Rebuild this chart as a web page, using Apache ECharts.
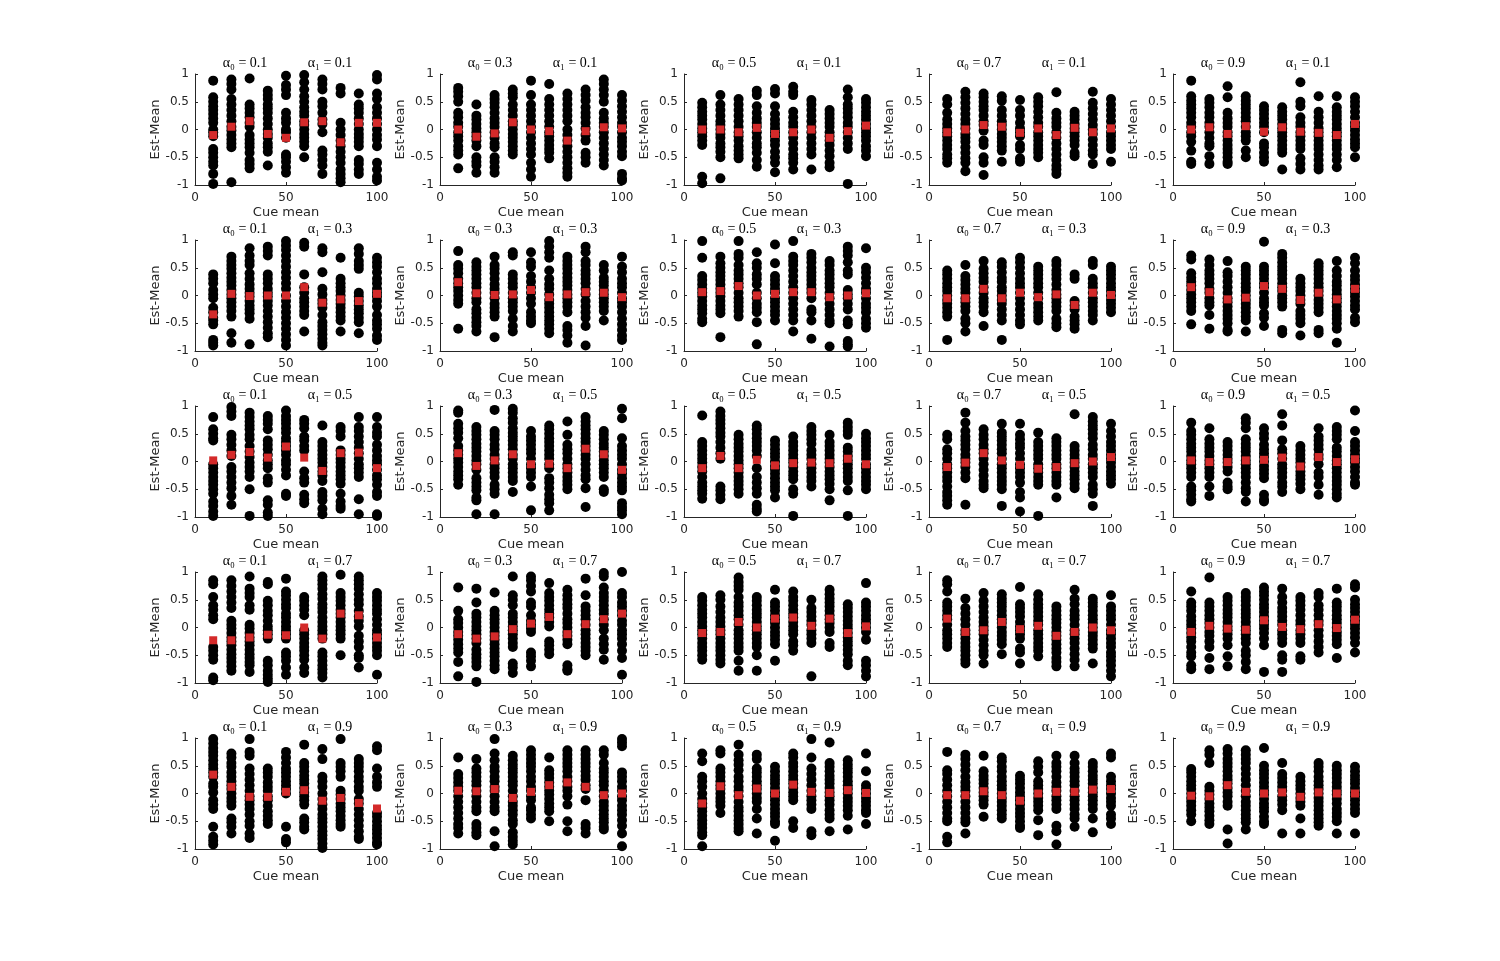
<!DOCTYPE html>
<html>
<head>
<meta charset="utf-8">
<script src="https://cdn.jsdelivr.net/npm/echarts@6/dist/echarts.min.js"></script>
<style>html,body{margin:0;padding:0;background:#fff;}#chart{width:1500px;height:961px;}</style>
</head>
<body>
<div id="chart"></div>
<script>
// ---- data ----
const cueMeans = [10, 20, 30, 40, 50, 60, 70, 80, 90, 100];
const alpha0 = ['0.1', '0.3', '0.5', '0.7', '0.9'];   // columns
const alpha1 = ['0.1', '0.3', '0.5', '0.7', '0.9'];   // rows
const xTicks = [0, 50, 100];
const yTicks = [-1, -0.5, 0, 0.5, 1];

// Row 1 (alpha1 = 0.1)
const est_r1c1 = [
 [0.88,0.58,0.5,0.42,0.35,0.28,0.2,0.12,0.0,-0.05,-0.12,-0.35,-0.42,-0.5,-0.58,-0.65,-0.8,-0.98],
 [0.9,0.82,0.72,0.55,0.45,0.35,0.25,0.15,0.05,-0.02,-0.1,-0.18,-0.25,-0.32,-0.95],
 [0.92,0.45,0.38,0.3,0.22,0.12,0.05,-0.1,-0.18,-0.25,-0.32,-0.42,-0.55,-0.62,-0.7],
 [0.7,0.62,0.55,0.45,0.38,0.3,0.2,0.1,0.0,-0.08,-0.15,-0.25,-0.32,-0.4,-0.65],
 [0.97,0.8,0.72,0.62,0.3,0.2,0.12,0.0,-0.05,-0.15,-0.45,-0.5,-0.58,-0.68,-0.78],
 [0.98,0.85,0.72,0.6,0.5,0.4,0.32,0.25,0.15,0.08,0.0,-0.08,-0.15,-0.22,-0.3,-0.5],
 [0.9,0.82,0.72,0.5,0.42,0.3,0.18,0.1,-0.05,-0.38,-0.45,-0.55,-0.65,-0.8],
 [0.75,0.65,0.12,0.0,-0.1,-0.2,-0.3,-0.4,-0.5,-0.6,-0.72,-0.8,-0.88,-0.95],
 [0.65,0.45,0.38,0.3,0.2,0.1,0.0,-0.08,-0.15,-0.22,-0.3,-0.55,-0.62,-0.72,-0.8],
 [0.98,0.9,0.65,0.55,0.4,0.3,0.2,0.1,0.0,-0.1,-0.18,-0.3,-0.6,-0.72,-0.85,-0.92]
];
const mean_r1c1 = [-0.1,0.05,0.15,-0.08,-0.15,0.13,0.15,-0.23,0.12,0.12];

const est_r1c2 = [
 [0.75,0.68,0.6,0.5,0.3,0.22,0.12,0.05,-0.05,-0.12,-0.2,-0.3,-0.38,-0.45,-0.7],
 [0.45,0.25,0.18,0.1,0.02,-0.05,-0.12,-0.2,-0.3,-0.5,-0.58,-0.65,-0.78],
 [0.62,0.55,0.48,0.4,0.3,0.2,0.12,0.05,-0.05,-0.15,-0.25,-0.32,-0.5,-0.58,-0.68,-0.78],
 [0.72,0.65,0.58,0.45,0.35,0.25,0.15,0.08,0.0,-0.08,-0.15,-0.22,-0.3,-0.38,-0.45],
 [0.88,0.62,0.45,0.35,0.25,0.15,0.05,-0.05,-0.15,-0.25,-0.35,-0.45,-0.6,-0.72,-0.85],
 [0.82,0.55,0.45,0.35,0.25,0.15,0.05,-0.05,-0.12,-0.2,-0.28,-0.35,-0.42,-0.52],
 [0.65,0.55,0.45,0.35,0.25,0.15,0.0,-0.1,-0.2,-0.3,-0.4,-0.5,-0.6,-0.7,-0.78,-0.85],
 [0.72,0.62,0.52,0.4,0.3,0.22,0.12,0.02,-0.1,-0.2,-0.42,-0.5,-0.6],
 [0.9,0.82,0.72,0.62,0.5,0.3,0.2,0.12,0.05,-0.05,-0.15,-0.25,-0.35,-0.45,-0.55,-0.65],
 [0.62,0.52,0.42,0.32,0.22,0.12,0.05,-0.05,-0.15,-0.22,-0.3,-0.4,-0.48,-0.8,-0.88,-0.92]
];
const mean_r1c2 = [0.0,-0.13,-0.07,0.13,0.0,-0.03,-0.2,-0.03,0.04,0.02];

const est_r1c3 = [
 [0.48,0.4,0.32,0.25,0.18,0.1,0.02,-0.05,-0.12,-0.2,-0.28,-0.85,-0.97],
 [0.62,0.45,0.35,0.25,0.15,0.08,0.0,-0.08,-0.15,-0.25,-0.32,-0.4,-0.5,-0.88],
 [0.55,0.45,0.35,0.25,0.15,0.05,-0.05,-0.12,-0.2,-0.3,-0.38,-0.45,-0.52],
 [0.7,0.62,0.42,0.3,0.2,0.12,0.05,-0.05,-0.15,-0.25,-0.32,-0.42,-0.55,-0.67],
 [0.73,0.65,0.42,0.28,0.18,0.1,0.02,-0.05,-0.12,-0.2,-0.28,-0.4,-0.5,-0.6,-0.77],
 [0.77,0.68,0.62,0.32,0.22,0.12,0.05,-0.05,-0.15,-0.25,-0.35,-0.45,-0.52,-0.6,-0.72],
 [0.53,0.45,0.35,0.25,0.15,0.05,-0.05,-0.15,-0.25,-0.35,-0.45,-0.72],
 [0.35,0.28,0.2,0.12,0.05,-0.05,-0.12,-0.2,-0.28,-0.38,-0.48,-0.6,-0.68],
 [0.72,0.58,0.45,0.38,0.3,0.22,0.12,0.05,-0.05,-0.15,-0.25,-0.35,-0.98],
 [0.55,0.48,0.4,0.32,0.25,0.18,0.1,0.02,-0.05,-0.12,-0.2,-0.3,-0.38,-0.48]
];
const mean_r1c3 = [0.0,0.0,-0.05,0.03,-0.08,-0.05,0.0,-0.15,-0.03,0.07];

const est_r1c4 = [
 [0.55,0.45,0.3,0.18,0.1,0.02,-0.05,-0.12,-0.2,-0.28,-0.35,-0.45,-0.52,-0.6],
 [0.68,0.58,0.48,0.38,0.28,0.18,0.1,0.02,-0.08,-0.15,-0.22,-0.32,-0.42,-0.52,-0.6,-0.75],
 [0.65,0.58,0.5,0.42,0.35,0.25,0.15,0.08,-0.02,-0.2,-0.28,-0.5,-0.6,-0.82],
 [0.6,0.52,0.35,0.25,0.15,0.08,0.0,-0.08,-0.15,-0.22,-0.3,-0.38,-0.58],
 [0.53,0.35,0.25,0.12,0.02,-0.05,-0.12,-0.28,-0.35,-0.52,-0.58],
 [0.58,0.5,0.42,0.32,0.22,0.12,0.05,-0.05,-0.12,-0.2,-0.28,-0.35,-0.42,-0.5],
 [0.67,0.3,0.2,0.12,0.05,-0.05,-0.15,-0.25,-0.35,-0.45,-0.55,-0.65,-0.72,-0.8],
 [0.32,0.25,0.18,0.1,0.02,-0.05,-0.12,-0.2,-0.28,-0.42,-0.48],
 [0.68,0.48,0.38,0.28,0.18,0.08,0.0,-0.08,-0.18,-0.28,-0.38,-0.45,-0.62],
 [0.55,0.45,0.35,0.25,0.15,0.05,-0.05,-0.12,-0.2,-0.28,-0.35,-0.58]
];
const mean_r1c4 = [-0.05,0.0,0.08,0.05,-0.06,0.02,-0.1,0.03,-0.05,0.02];

const est_r1c5 = [
 [0.88,0.6,0.52,0.45,0.38,0.3,0.22,0.12,0.05,-0.05,-0.12,-0.22,-0.38,-0.58,-0.62],
 [0.55,0.48,0.4,0.3,0.22,0.12,0.05,-0.05,-0.15,-0.25,-0.3,-0.48,-0.62],
 [0.78,0.58,0.3,0.2,0.12,0.05,-0.05,-0.12,-0.2,-0.28,-0.35,-0.42,-0.5,-0.58,-0.62],
 [0.6,0.52,0.45,0.38,0.3,0.22,0.15,0.05,-0.05,-0.12,-0.2,-0.38,-0.5],
 [0.42,0.35,0.28,0.2,0.12,0.05,-0.05,-0.25,-0.32,-0.42,-0.5,-0.58],
 [0.4,0.32,0.25,0.18,0.1,0.02,-0.05,-0.12,-0.2,-0.28,-0.35,-0.42,-0.72],
 [0.85,0.5,0.42,0.22,0.12,0.05,-0.05,-0.12,-0.2,-0.28,-0.35,-0.52,-0.62,-0.72],
 [0.6,0.32,0.22,0.12,0.02,-0.05,-0.12,-0.2,-0.28,-0.35,-0.45,-0.55,-0.65,-0.72],
 [0.6,0.4,0.32,0.25,0.18,0.1,0.02,-0.05,-0.12,-0.2,-0.28,-0.35,-0.45,-0.55,-0.68],
 [0.58,0.5,0.42,0.32,0.22,0.12,0.05,-0.02,-0.1,-0.18,-0.25,-0.32,-0.5]
];
const mean_r1c5 = [0.0,0.04,-0.08,0.06,-0.04,0.04,-0.04,-0.06,-0.1,0.1];

// Row 2 (alpha1 = 0.3)
const est_r2c1 = [
 [0.38,0.3,0.22,0.1,0.02,-0.05,-0.22,-0.3,-0.4,-0.45,-0.52,-0.8,-0.85,-0.9],
 [0.7,0.62,0.55,0.48,0.4,0.32,0.25,0.18,0.1,0.02,-0.05,-0.12,-0.2,-0.28,-0.38,-0.68,-0.85],
 [0.85,0.72,0.62,0.55,0.4,0.3,0.2,0.12,0.05,-0.02,-0.1,-0.18,-0.25,-0.32,-0.42,-0.88],
 [0.88,0.8,0.72,0.38,0.3,0.22,0.12,0.05,-0.02,-0.1,-0.18,-0.28,-0.38,-0.48,-0.58,-0.68,-0.75],
 [0.98,0.9,0.82,0.72,0.62,0.52,0.42,0.32,0.22,0.12,0.0,-0.1,-0.2,-0.3,-0.4,-0.5,-0.6,-0.7,-0.8,-0.9],
 [0.95,0.88,0.38,0.15,0.05,-0.05,-0.12,-0.2,-0.28,-0.35,-0.65],
 [0.85,0.78,0.42,0.12,0.02,-0.08,-0.15,-0.22,-0.35,-0.48,-0.55,-0.62,-0.7,-0.78,-0.85,-0.9],
 [0.68,0.3,0.22,0.15,0.08,0.0,-0.08,-0.15,-0.22,-0.3,-0.38,-0.45,-0.65],
 [0.85,0.75,0.62,0.55,0.48,0.05,-0.02,-0.1,-0.18,-0.25,-0.32,-0.4,-0.48,-0.68],
 [0.68,0.6,0.52,0.42,0.3,0.22,0.12,0.05,-0.02,-0.1,-0.2,-0.35,-0.45,-0.52,-0.6,-0.72,-0.8]
];
const mean_r2c1 = [-0.34,0.03,-0.01,0.0,0.0,0.15,-0.13,-0.07,-0.1,0.03];

const est_r2c2 = [
 [0.8,0.55,0.48,0.4,0.3,0.22,0.15,0.08,0.0,-0.08,-0.15,-0.6],
 [0.6,0.52,0.45,0.38,0.3,0.22,0.15,0.05,-0.05,-0.12,-0.25,-0.32,-0.4,-0.48,-0.55,-0.65],
 [0.7,0.55,0.48,0.4,0.3,0.2,0.12,0.05,-0.05,-0.15,-0.22,-0.3,-0.38,-0.75],
 [0.78,0.72,0.38,0.3,0.22,0.15,0.05,-0.05,-0.12,-0.2,-0.28,-0.42,-0.55,-0.65],
 [0.78,0.6,0.52,0.35,0.25,0.15,0.05,-0.05,-0.15,-0.3,-0.38,-0.45,-0.5],
 [0.98,0.88,0.78,0.68,0.45,0.3,0.2,0.12,0.02,-0.08,-0.15,-0.22,-0.3,-0.38,-0.45,-0.52,-0.6,-0.68],
 [0.7,0.62,0.55,0.48,0.4,0.32,0.25,0.18,0.1,0.02,-0.05,-0.12,-0.2,-0.3,-0.55,-0.62,-0.72,-0.85],
 [0.88,0.78,0.62,0.55,0.45,0.38,0.3,0.22,0.12,0.02,-0.1,-0.2,-0.3,-0.4,-0.55,-0.9],
 [0.55,0.45,0.32,0.25,0.18,0.1,0.02,-0.05,-0.12,-0.2,-0.28,-0.45],
 [0.7,0.52,0.42,0.3,0.22,0.15,0.05,-0.05,-0.12,-0.2,-0.3,-0.42,-0.52,-0.62,-0.72,-0.8]
];
const mean_r2c2 = [0.24,0.04,0.01,0.02,0.1,-0.03,0.02,0.06,0.05,-0.03];

const est_r2c3 = [
 [0.98,0.68,0.35,0.28,0.2,0.12,0.05,-0.02,-0.1,-0.18,-0.25,-0.32,-0.42,-0.48],
 [0.7,0.58,0.5,0.42,0.35,0.28,0.2,0.12,0.05,-0.02,-0.1,-0.18,-0.25,-0.32,-0.75],
 [0.98,0.75,0.68,0.55,0.45,0.38,0.3,0.22,0.15,0.05,-0.05,-0.12,-0.2,-0.28,-0.38],
 [0.78,0.58,0.5,0.38,0.3,0.2,0.05,-0.05,-0.15,-0.22,-0.3,-0.48,-0.88],
 [0.92,0.58,0.35,0.28,0.2,0.12,0.05,-0.05,-0.12,-0.2,-0.28,-0.35,-0.45],
 [0.98,0.7,0.62,0.55,0.45,0.35,0.25,0.15,0.05,-0.05,-0.15,-0.25,-0.35,-0.45,-0.65],
 [0.75,0.68,0.6,0.5,0.42,0.35,0.28,0.2,0.12,0.05,-0.05,-0.25,-0.3,-0.45,-0.78],
 [0.62,0.55,0.45,0.38,0.3,0.22,0.15,0.05,-0.05,-0.15,-0.25,-0.35,-0.45,-0.5,-0.92],
 [0.88,0.8,0.72,0.6,0.45,0.38,0.1,0.02,-0.05,-0.15,-0.25,-0.45,-0.52,-0.82,-0.88,-0.92],
 [0.85,0.5,0.42,0.32,0.22,0.12,0.05,-0.05,-0.15,-0.22,-0.3,-0.42,-0.5,-0.58]
];
const mean_r2c3 = [0.06,0.08,0.17,0.0,0.03,0.06,0.06,-0.03,0.0,0.04];

const est_r2c4 = [
 [0.45,0.38,0.3,0.22,0.15,0.08,0.0,-0.08,-0.15,-0.22,-0.3,-0.38,-0.8],
 [0.55,0.35,0.28,0.2,0.12,0.05,-0.05,-0.12,-0.2,-0.28,-0.42,-0.5,-0.65],
 [0.62,0.48,0.4,0.32,0.25,0.15,0.05,-0.05,-0.12,-0.2,-0.3,-0.55],
 [0.6,0.52,0.42,0.32,0.25,0.15,0.08,0.0,-0.08,-0.15,-0.25,-0.35,-0.45,-0.8],
 [0.68,0.6,0.5,0.4,0.3,0.22,0.15,0.05,-0.05,-0.15,-0.25,-0.35,-0.45,-0.52],
 [0.52,0.45,0.38,0.3,0.22,0.15,0.05,-0.05,-0.15,-0.22,-0.3,-0.38,-0.45],
 [0.62,0.55,0.45,0.38,0.3,0.2,0.1,0.02,-0.05,-0.12,-0.2,-0.28,-0.42,-0.5,-0.57],
 [0.38,0.3,-0.1,-0.18,-0.25,-0.38,-0.45,-0.52,-0.6],
 [0.62,0.55,0.3,0.22,0.15,0.05,-0.05,-0.12,-0.2,-0.28,-0.35,-0.45],
 [0.52,0.45,0.38,0.3,0.22,0.15,0.08,0.0,-0.08,-0.15,-0.22,-0.3]
];
const mean_r2c4 = [-0.05,-0.05,0.12,-0.05,0.05,-0.03,0.02,-0.17,0.05,0.01];

const est_r2c5 = [
 [0.72,0.65,0.4,0.32,0.25,0.18,0.1,0.02,-0.05,-0.12,-0.2,-0.28,-0.52],
 [0.65,0.55,0.45,0.38,0.3,0.22,0.12,0.05,-0.05,-0.12,-0.18,-0.35,-0.6],
 [0.62,0.42,0.35,0.25,0.15,0.05,-0.05,-0.12,-0.2,-0.28,-0.35,-0.42,-0.5,-0.62,-0.65],
 [0.52,0.45,0.38,0.3,0.22,0.15,0.08,0.0,-0.08,-0.15,-0.22,-0.3,-0.38,-0.45,-0.65],
 [0.97,0.52,0.45,0.38,0.3,0.22,0.15,0.05,-0.05,-0.12,-0.18,-0.32,-0.4,-0.55],
 [0.75,0.68,0.6,0.52,0.45,0.38,0.3,0.22,0.15,0.08,0.0,-0.05,-0.12,-0.2,-0.62,-0.68],
 [0.3,0.22,0.15,0.08,0.0,-0.08,-0.15,-0.28,-0.35,-0.42,-0.5,-0.72],
 [0.58,0.52,0.45,0.38,0.3,0.22,0.15,0.08,0.0,-0.08,-0.15,-0.22,-0.3,-0.62,-0.68],
 [0.62,0.45,0.35,0.25,0.18,0.1,0.02,-0.05,-0.12,-0.2,-0.28,-0.35,-0.42,-0.5,-0.6,-0.85],
 [0.68,0.58,0.45,0.35,0.28,0.2,0.12,0.05,-0.02,-0.1,-0.18,-0.25,-0.4,-0.48]
];
const mean_r2c5 = [0.15,0.06,-0.07,-0.04,0.17,0.12,-0.08,0.05,-0.07,0.12];

// Row 3 (alpha1 = 0.5)
const est_r3c1 = [
 [0.8,0.58,0.5,0.42,0.38,-0.05,-0.12,-0.2,-0.28,-0.35,-0.42,-0.5,-0.58,-0.72,-0.8,-0.9,-0.98],
 [0.98,0.9,0.82,0.48,0.4,0.3,0.2,0.1,-0.1,-0.18,-0.28,-0.38,-0.48,-0.62,-0.78],
 [0.88,0.8,0.72,0.65,0.58,0.48,0.4,0.28,0.18,0.08,-0.02,-0.1,-0.18,-0.28,-0.5,-0.98],
 [0.82,0.75,0.68,0.58,0.38,0.3,0.22,0.12,0.02,-0.05,-0.12,-0.3,-0.38,-0.7,-0.78,-0.92,-0.98],
 [0.92,0.82,0.75,0.68,0.6,0.52,0.42,0.35,0.28,0.2,0.12,0.02,-0.05,-0.15,-0.25,-0.58,-0.62],
 [0.75,0.68,0.6,0.45,0.38,0.28,0.2,-0.18,-0.3,-0.38,-0.6,-0.68,-0.75],
 [0.65,0.35,0.28,0.2,0.12,0.05,-0.02,-0.1,-0.18,-0.25,-0.35,-0.55,-0.62,-0.7,-0.85,-0.95],
 [0.62,0.55,0.45,0.2,0.12,0.05,-0.02,-0.1,-0.18,-0.25,-0.32,-0.4,-0.58,-0.72,-0.8,-0.85],
 [0.8,0.62,0.55,0.45,0.35,0.25,0.15,0.05,-0.05,-0.12,-0.2,-0.28,-0.68,-0.95],
 [0.8,0.62,0.52,0.45,0.3,0.2,0.1,0.02,-0.05,-0.15,-0.25,-0.32,-0.42,-0.55,-0.62,-0.95,-0.98]
];
const mean_r3c1 = [0.02,0.12,0.17,0.07,0.27,0.07,-0.17,0.15,0.16,-0.12];

const est_r3c2 = [
 [0.92,0.88,0.68,0.6,0.52,0.42,0.28,0.2,0.12,0.05,-0.02,-0.1,-0.18,-0.25,-0.32,-0.42],
 [0.62,0.55,0.48,0.4,0.32,0.25,0.18,0.1,0.02,-0.05,-0.15,-0.3,-0.38,-0.45,-0.52,-0.65,-0.7,-0.95],
 [0.93,0.55,0.48,0.4,0.3,0.22,0.12,0.05,-0.05,-0.12,-0.2,-0.28,-0.42,-0.5,-0.58,-0.95],
 [0.95,0.88,0.78,0.7,0.6,0.52,0.45,0.38,0.3,0.22,0.12,0.05,-0.05,-0.12,-0.2,-0.28,-0.35,-0.55],
 [0.55,0.45,0.38,0.3,0.22,0.15,0.05,-0.05,-0.12,-0.2,-0.28,-0.45,-0.88],
 [0.65,0.58,0.5,0.42,0.35,0.28,0.2,0.12,0.05,-0.05,-0.12,-0.3,-0.38,-0.48,-0.6,-0.68,-0.75,-0.88],
 [0.72,0.48,0.3,0.22,0.15,0.05,-0.05,-0.12,-0.2,-0.28,-0.35,-0.42,-0.5],
 [0.8,0.72,0.65,0.58,0.5,0.42,0.35,0.28,0.2,0.12,0.05,-0.05,-0.15,-0.25,-0.32,-0.48,-0.82],
 [0.55,0.48,0.4,0.32,0.25,0.18,0.1,0.02,-0.05,-0.12,-0.2,-0.28,-0.5,-0.55],
 [0.95,0.78,0.42,0.28,0.2,0.12,0.05,-0.05,-0.15,-0.22,-0.3,-0.38,-0.45,-0.52,-0.75,-0.82,-0.88,-0.95]
];
const mean_r3c2 = [0.15,-0.08,0.02,0.13,-0.05,-0.04,-0.12,0.23,0.13,-0.15];

const est_r3c3 = [
 [0.83,0.35,0.28,0.2,0.12,0.05,-0.02,-0.1,-0.18,-0.28,-0.38,-0.45,-0.52,-0.58,-0.67],
 [0.9,0.82,0.75,0.68,0.6,0.52,0.45,0.35,0.25,0.15,0.05,-0.45,-0.52,-0.6,-0.68],
 [0.48,0.4,0.32,0.25,0.18,0.1,0.02,-0.05,-0.12,-0.2,-0.28,-0.35,-0.42,-0.5,-0.58],
 [0.65,0.58,0.5,0.42,0.35,0.28,0.2,0.1,-0.12,-0.28,-0.38,-0.48,-0.58,-0.78,-0.85,-0.9],
 [0.38,0.3,0.22,0.15,0.08,0.0,-0.08,-0.15,-0.22,-0.3,-0.38,-0.45,-0.52,-0.65],
 [0.45,0.35,0.28,0.2,0.12,0.05,-0.02,-0.1,-0.18,-0.25,-0.32,-0.5,-0.58,-0.98],
 [0.62,0.55,0.48,0.4,0.32,0.2,0.12,0.05,-0.05,-0.12,-0.2,-0.28,-0.35,-0.45],
 [0.48,0.35,0.28,0.2,0.12,0.05,-0.02,-0.1,-0.18,-0.25,-0.32,-0.4,-0.5,-0.7],
 [0.7,0.62,0.55,0.48,0.25,0.18,0.1,0.02,-0.05,-0.12,-0.2,-0.28,-0.35,-0.52,-0.98],
 [0.5,0.42,0.35,0.28,0.2,0.12,0.05,-0.05,-0.12,-0.2,-0.28,-0.35,-0.42,-0.5]
];
const mean_r3c3 = [-0.12,0.1,-0.12,0.03,-0.07,-0.03,-0.02,-0.03,0.05,-0.05];

const est_r3c4 = [
 [0.48,0.4,0.22,0.15,0.05,-0.05,-0.12,-0.2,-0.28,-0.35,-0.45,-0.55,-0.62,-0.7,-0.78],
 [0.88,0.7,0.55,0.45,0.38,0.3,0.22,0.12,0.05,-0.02,-0.1,-0.2,-0.3,-0.78],
 [0.58,0.48,0.4,0.3,0.22,0.15,0.05,-0.05,-0.15,-0.25,-0.35,-0.42,-0.48],
 [0.68,0.52,0.45,0.38,0.3,0.22,0.15,0.05,-0.05,-0.12,-0.2,-0.28,-0.35,-0.42,-0.5,-0.8],
 [0.68,0.48,0.4,0.32,0.25,0.15,0.05,-0.05,-0.12,-0.2,-0.28,-0.38,-0.55,-0.65,-0.9],
 [0.52,0.35,0.28,0.2,0.12,0.05,-0.05,-0.12,-0.2,-0.28,-0.35,-0.42,-0.98],
 [0.42,0.35,0.28,0.2,0.12,0.05,-0.05,-0.12,-0.2,-0.28,-0.35,-0.42,-0.65],
 [0.85,0.28,0.2,0.12,0.05,-0.02,-0.1,-0.18,-0.25,-0.32,-0.4,-0.48],
 [0.8,0.72,0.65,0.58,0.5,0.42,0.3,0.22,0.12,0.05,-0.05,-0.12,-0.2,-0.28,-0.42,-0.5,-0.58,-0.8],
 [0.68,0.55,0.45,0.35,0.28,0.2,0.12,0.05,-0.02,-0.1,-0.18,-0.25,-0.32,-0.4]
];
const mean_r3c4 = [-0.1,-0.02,0.15,0.02,-0.06,-0.13,-0.1,-0.03,0.0,0.08];

const est_r3c5 = [
 [0.7,0.55,0.48,0.4,0.32,0.25,0.18,0.1,0.02,-0.05,-0.12,-0.2,-0.28,-0.45,-0.52,-0.6,-0.68,-0.72],
 [0.6,0.4,0.32,0.25,0.18,0.1,0.02,-0.05,-0.12,-0.2,-0.28,-0.45,-0.62],
 [0.35,0.28,0.2,0.12,0.05,-0.02,-0.1,-0.18,-0.38,-0.45,-0.5],
 [0.78,0.7,0.6,0.4,0.32,0.25,0.18,0.1,0.02,-0.05,-0.12,-0.2,-0.28,-0.38,-0.48,-0.55,-0.72],
 [0.6,0.5,0.42,0.3,0.22,0.15,0.08,0.0,-0.08,-0.15,-0.22,-0.3,-0.6,-0.68,-0.72],
 [0.85,0.65,0.38,0.22,0.15,0.05,-0.05,-0.12,-0.2,-0.28,-0.38,-0.45,-0.55],
 [0.28,0.2,0.12,0.05,-0.02,-0.1,-0.18,-0.25,-0.32,-0.4,-0.5],
 [0.6,0.45,0.38,0.3,0.22,0.12,0.05,-0.05,-0.2,-0.28,-0.42,-0.6],
 [0.62,0.55,0.48,0.4,0.25,0.18,0.1,0.02,-0.05,-0.12,-0.2,-0.28,-0.35,-0.42,-0.5,-0.58,-0.65],
 [0.92,0.55,0.35,0.28,0.2,0.12,0.05,-0.02,-0.1,-0.18,-0.28,-0.38,-0.42]
];
const mean_r3c5 = [0.02,-0.01,-0.01,0.02,0.03,0.07,-0.09,0.08,-0.01,0.04];

// Row 4 (alpha1 = 0.7)
const est_r4c1 = [
 [0.85,0.78,0.55,0.4,0.32,0.22,0.15,-0.35,-0.42,-0.5,-0.58,-0.9,-0.95],
 [0.85,0.75,0.65,0.55,0.45,0.35,0.12,0.05,-0.02,-0.1,-0.18,-0.25,-0.32,-0.4,-0.48,-0.55,-0.62,-0.7,-0.78],
 [0.92,0.7,0.62,0.55,0.4,0.32,0.05,-0.02,-0.1,-0.18,-0.25,-0.32,-0.4,-0.48,-0.55,-0.62,-0.68,-0.8],
 [0.82,0.78,0.48,0.4,0.3,0.22,0.12,0.02,-0.05,-0.12,-0.2,-0.6,-0.68,-0.78,-0.85,-0.92,-0.98],
 [0.88,0.65,0.58,0.5,0.42,0.35,0.25,0.18,0.1,0.02,-0.05,-0.12,-0.2,-0.45,-0.52,-0.6,-0.72,-0.85],
 [0.55,0.48,0.4,0.32,0.22,-0.05,-0.12,-0.2,-0.28,-0.35,-0.42,-0.5,-0.58,-0.72,-0.82],
 [0.92,0.85,0.78,0.7,0.6,0.52,0.42,0.35,0.28,0.18,0.1,0.02,-0.05,-0.12,-0.2,-0.45,-0.52,-0.6,-0.68,-0.75,-0.82,-0.9],
 [0.95,0.62,0.55,0.48,0.4,0.32,0.25,0.18,0.1,0.02,-0.05,-0.12,-0.2,-0.5],
 [0.92,0.85,0.78,0.7,0.6,0.5,0.42,0.3,0.2,0.12,0.02,-0.15,-0.25,-0.35,-0.5,-0.55,-0.72],
 [0.62,0.55,0.48,0.4,0.32,0.25,0.15,0.05,-0.05,-0.12,-0.2,-0.28,-0.35,-0.42,-0.5,-0.85]
];
const mean_r4c1 = [-0.23,-0.23,-0.18,-0.13,-0.14,0.0,-0.2,0.25,0.22,-0.18];

const est_r4c2 = [
 [0.72,0.3,0.15,0.08,0.0,-0.08,-0.15,-0.22,-0.3,-0.38,-0.45,-0.62,-0.88],
 [0.7,0.45,0.25,0.18,0.1,0.02,-0.05,-0.12,-0.2,-0.28,-0.4,-0.48,-0.55,-0.62,-0.7,-0.98],
 [0.63,0.3,0.22,0.15,0.08,0.0,-0.08,-0.15,-0.22,-0.3,-0.38,-0.45,-0.52,-0.6,-0.68,-0.75],
 [0.92,0.58,0.5,0.4,0.25,0.18,0.1,0.02,-0.05,-0.12,-0.2,-0.28,-0.35,-0.65,-0.72,-0.82],
 [0.92,0.85,0.75,0.65,0.45,0.38,0.22,0.12,0.05,-0.02,-0.08,-0.45,-0.52,-0.6,-0.7],
 [0.8,0.62,0.55,0.48,0.4,0.32,0.25,0.18,0.1,0.02,-0.25,-0.32,-0.4,-0.48],
 [0.68,0.58,0.5,0.42,0.35,0.25,0.15,0.08,0.0,-0.08,-0.15,-0.22,-0.3,-0.68,-0.75,-0.78],
 [0.88,0.58,0.38,0.3,0.22,0.15,0.05,-0.05,-0.12,-0.2,-0.28,-0.35,-0.42,-0.5],
 [0.98,0.92,0.72,0.62,0.55,0.48,0.4,0.32,0.25,0.15,0.05,-0.05,-0.2,-0.3,-0.4,-0.58],
 [1.0,0.62,0.55,0.45,0.38,0.3,0.22,0.12,0.05,-0.05,-0.12,-0.2,-0.3,-0.42,-0.55,-0.85]
];
const mean_r4c2 = [-0.12,-0.2,-0.16,-0.03,0.07,0.19,-0.12,0.06,0.15,0.25];

const est_r4c3 = [
 [0.55,0.48,0.4,0.32,0.25,0.18,0.1,0.02,-0.05,-0.12,-0.2,-0.28,-0.35,-0.42,-0.5,-0.58],
 [0.58,0.5,0.38,0.28,0.18,0.1,0.02,-0.05,-0.12,-0.2,-0.28,-0.35,-0.42,-0.5,-0.58,-0.65],
 [0.9,0.82,0.75,0.68,0.55,0.45,0.38,0.3,0.22,0.15,0.05,-0.05,-0.12,-0.2,-0.28,-0.35,-0.42,-0.6,-0.78],
 [0.55,0.48,0.4,0.32,0.25,0.18,0.1,0.02,-0.05,-0.12,-0.2,-0.28,-0.35,-0.5,-0.78],
 [0.68,0.45,0.38,0.3,0.22,0.15,0.08,0.0,-0.08,-0.15,-0.22,-0.3,-0.6],
 [0.65,0.55,0.48,0.4,0.32,0.25,0.18,0.1,0.02,-0.05,-0.12,-0.25,-0.32,-0.42],
 [0.5,0.35,0.28,0.2,0.12,0.05,-0.05,-0.12,-0.2,-0.28,-0.88],
 [0.68,0.6,0.52,0.45,0.38,0.3,0.22,0.15,0.08,0.0,-0.08,-0.28,-0.35],
 [0.42,0.35,0.28,0.2,0.12,0.05,-0.02,-0.1,-0.18,-0.25,-0.32,-0.4,-0.48,-0.6,-0.68],
 [0.8,0.45,0.38,0.3,0.22,0.15,0.08,0.0,-0.08,-0.22,-0.6,-0.68,-0.78,-0.88]
];
const mean_r4c3 = [-0.1,-0.08,0.1,0.0,0.16,0.18,0.03,0.16,-0.1,0.02];

const est_r4c4 = [
 [0.85,0.78,0.65,0.45,0.38,0.3,0.22,0.15,0.05,-0.05,-0.12,-0.2,-0.28,-0.35],
 [0.52,0.35,0.25,0.15,0.05,-0.05,-0.12,-0.2,-0.28,-0.35,-0.42,-0.5,-0.58,-0.65],
 [0.62,0.48,0.38,0.28,0.18,0.1,0.02,-0.05,-0.12,-0.22,-0.32,-0.42,-0.5,-0.65],
 [0.6,0.52,0.45,0.38,0.3,0.22,0.15,0.08,0.0,-0.08,-0.15,-0.22,-0.3,-0.48],
 [0.73,0.42,0.35,0.28,0.2,0.1,0.02,-0.05,-0.12,-0.2,-0.38,-0.45,-0.65],
 [0.6,0.5,0.42,0.35,0.28,0.2,0.12,0.05,-0.05,-0.12,-0.2,-0.28,-0.35,-0.42,-0.52],
 [0.38,0.3,0.22,0.15,0.08,0.0,-0.08,-0.15,-0.22,-0.3,-0.38,-0.45,-0.55,-0.62,-0.7],
 [0.68,0.52,0.42,0.3,0.22,0.15,0.05,-0.05,-0.12,-0.2,-0.28,-0.38,-0.48,-0.58,-0.7],
 [0.52,0.45,0.38,0.3,0.22,0.15,0.08,0.0,-0.08,-0.15,-0.22,-0.3,-0.38,-0.65],
 [0.58,0.38,0.3,0.22,0.15,0.05,-0.05,-0.12,-0.2,-0.28,-0.35,-0.45,-0.52,-0.6,-0.68,-0.78,-0.88]
];
const mean_r4c4 = [0.16,-0.08,-0.05,0.1,-0.03,0.03,-0.15,-0.08,0.0,-0.05];

const est_r4c5 = [
 [0.65,0.45,0.38,0.3,0.2,0.12,0.05,-0.02,-0.1,-0.18,-0.25,-0.35,-0.45,-0.52,-0.68,-0.75],
 [0.9,0.45,0.38,0.3,0.22,0.15,0.08,0.0,-0.08,-0.15,-0.25,-0.35,-0.55,-0.75],
 [0.55,0.48,0.4,0.32,0.25,0.18,0.1,0.02,-0.05,-0.12,-0.2,-0.32,-0.52,-0.7],
 [0.62,0.55,0.48,0.4,0.32,0.25,0.18,0.1,0.02,-0.05,-0.12,-0.2,-0.28,-0.42,-0.5,-0.62,-0.75],
 [0.72,0.65,0.58,0.5,0.42,0.35,0.28,0.2,0.12,0.05,-0.02,-0.1,-0.2,-0.32,-0.8],
 [0.7,0.55,0.45,0.35,0.28,0.2,0.12,0.05,-0.05,-0.12,-0.2,-0.28,-0.5,-0.58,-0.8],
 [0.55,0.48,0.4,0.32,0.22,0.12,0.05,-0.05,-0.12,-0.2,-0.28,-0.52,-0.58],
 [0.62,0.55,0.4,0.32,0.22,0.12,0.05,-0.05,-0.15,-0.25,-0.35,-0.45],
 [0.7,0.45,0.38,0.3,0.22,0.15,0.08,0.0,-0.08,-0.15,-0.22,-0.3,-0.55],
 [0.78,0.72,0.5,0.42,0.35,0.28,0.2,0.12,0.05,-0.02,-0.1,-0.18,-0.28,-0.45]
];
const mean_r4c5 = [-0.08,0.03,-0.02,-0.04,0.13,0.01,-0.03,0.06,-0.01,0.14];

// Row 5 (alpha1 = 0.9)
const est_r5c1 = [
 [0.98,0.9,0.82,0.75,0.68,0.6,0.52,0.45,0.38,0.3,0.18,0.12,0.02,-0.12,-0.2,-0.28,-0.6,-0.78,-0.85,-0.92],
 [0.72,0.65,0.55,0.48,0.38,0.3,0.22,0.15,0.08,0.0,-0.08,-0.15,-0.22,-0.45,-0.52,-0.6,-0.72],
 [0.98,0.75,0.68,0.45,0.35,0.25,0.15,0.05,-0.05,-0.12,-0.2,-0.28,-0.38,-0.5,-0.58,-0.72,-0.8],
 [0.45,0.38,0.3,0.2,0.12,0.05,-0.05,-0.12,-0.22,-0.32,-0.4,-0.48,-0.55],
 [0.75,0.65,0.55,0.45,0.38,0.3,0.22,0.15,0.08,0.0,-0.6,-0.82,-0.88],
 [0.88,0.55,0.48,0.4,0.32,0.25,0.18,0.1,0.02,-0.05,-0.12,-0.2,-0.45,-0.52,-0.6,-0.65],
 [0.8,0.62,0.3,0.22,0.12,0.0,-0.1,-0.2,-0.28,-0.38,-0.45,-0.52,-0.6,-0.68,-0.75,-0.82,-0.9,-0.98],
 [0.98,0.55,0.48,0.4,0.3,0.05,-0.02,-0.1,-0.18,-0.25,-0.32,-0.4,-0.48,-0.55,-0.6],
 [0.62,0.55,0.48,0.4,0.3,0.22,0.12,0.05,-0.1,-0.18,-0.28,-0.38,-0.48,-0.58,-0.68,-0.78,-0.82],
 [0.85,0.78,0.45,0.3,0.2,0.12,-0.35,-0.42,-0.5,-0.58,-0.65,-0.72,-0.8,-0.88,-0.92]
];
const mean_r5c1 = [0.34,0.12,-0.06,-0.06,0.03,0.06,-0.13,-0.08,-0.17,-0.27];

const est_r5c2 = [
 [0.65,0.35,0.28,0.2,0.12,0.05,-0.05,-0.15,-0.25,-0.35,-0.45,-0.55,-0.62,-0.72],
 [0.62,0.45,0.38,0.3,0.22,0.15,0.05,-0.05,-0.15,-0.25,-0.32,-0.55,-0.62,-0.7,-0.75],
 [0.98,0.72,0.6,0.48,0.4,0.3,0.22,0.12,0.05,-0.05,-0.15,-0.25,-0.32,-0.68,-0.95],
 [0.68,0.6,0.52,0.45,0.38,0.3,0.22,0.15,0.05,-0.05,-0.15,-0.22,-0.3,-0.38,-0.48,-0.55,-0.7,-0.78,-0.85,-0.92],
 [0.78,0.7,0.62,0.55,0.48,0.4,0.3,0.22,0.12,0.05,-0.05,-0.12,-0.25,-0.3,-0.38,-0.45],
 [0.65,0.42,0.35,0.28,0.2,0.12,0.05,-0.02,-0.1,-0.18,-0.25,-0.32,-0.5],
 [0.78,0.7,0.62,0.55,0.48,0.4,0.3,0.22,0.12,0.05,-0.05,-0.2,-0.5,-0.68],
 [0.78,0.7,0.62,0.55,0.48,0.4,0.32,0.25,0.15,0.08,-0.12,-0.55,-0.62,-0.72],
 [0.78,0.7,0.55,0.45,0.38,0.3,0.22,0.15,0.05,-0.05,-0.15,-0.22,-0.3,-0.38,-0.45,-0.52,-0.6,-0.65],
 [0.98,0.92,0.85,0.38,0.3,0.22,0.12,0.05,-0.05,-0.12,-0.22,-0.3,-0.38,-0.48,-0.58,-0.72,-0.95]
];
const mean_r5c2 = [0.05,0.04,0.08,-0.08,0.03,0.15,0.2,0.12,-0.03,0.0];

const est_r5c3 = [
 [0.72,0.58,0.3,0.22,0.12,0.0,-0.1,-0.18,-0.25,-0.32,-0.4,-0.48,-0.55,-0.62,-0.7,-0.75,-0.95],
 [0.78,0.72,0.45,0.38,0.3,0.22,0.15,0.08,0.0,-0.08,-0.15,-0.22,-0.35],
 [0.88,0.7,0.6,0.52,0.42,0.3,0.22,0.12,0.05,-0.05,-0.15,-0.25,-0.32,-0.4,-0.48,-0.55,-0.62,-0.68],
 [0.7,0.62,0.45,0.38,0.3,0.22,0.15,0.08,0.0,-0.08,-0.15,-0.28,-0.45,-0.72],
 [0.48,0.4,0.32,0.25,0.18,0.1,0.02,-0.05,-0.12,-0.2,-0.28,-0.35,-0.42,-0.5,-0.55,-0.85],
 [0.72,0.65,0.55,0.48,0.4,0.32,0.25,0.18,0.1,0.02,-0.05,-0.12,-0.5,-0.62],
 [0.98,0.65,0.45,0.35,0.25,0.15,0.05,-0.05,-0.12,-0.2,-0.28,-0.68,-0.75],
 [0.92,0.55,0.48,0.4,0.32,0.25,0.18,0.1,0.02,-0.05,-0.12,-0.2,-0.3,-0.38,-0.45,-0.68],
 [0.6,0.52,0.45,0.38,0.3,0.22,0.15,0.08,0.0,-0.08,-0.15,-0.22,-0.3,-0.4,-0.65],
 [0.72,0.4,0.15,0.08,0.0,-0.08,-0.15,-0.22,-0.3,-0.35,-0.55]
];
const mean_r5c3 = [-0.18,0.13,-0.03,0.09,0.0,0.16,0.03,0.01,0.06,0.01];

const est_r5c4 = [
 [0.75,0.42,0.35,0.25,0.15,0.05,-0.05,-0.15,-0.25,-0.35,-0.45,-0.5,-0.78,-0.88],
 [0.7,0.62,0.52,0.42,0.3,0.2,0.12,0.05,-0.05,-0.15,-0.25,-0.35,-0.45,-0.52,-0.72],
 [0.68,0.4,0.32,0.25,0.18,0.1,0.02,-0.05,-0.12,-0.2,-0.42],
 [0.65,0.58,0.48,0.4,0.3,0.22,0.15,0.08,0.0,-0.08,-0.15,-0.22,-0.3,-0.38,-0.45],
 [0.32,0.25,0.18,0.1,0.02,-0.05,-0.12,-0.2,-0.28,-0.35,-0.42,-0.5,-0.58,-0.62],
 [0.58,0.48,0.38,0.22,0.15,0.08,0.0,-0.08,-0.15,-0.22,-0.3,-0.48,-0.75],
 [0.68,0.55,0.48,0.4,0.3,0.2,0.12,0.05,-0.05,-0.12,-0.2,-0.28,-0.58,-0.68,-0.92],
 [0.68,0.55,0.45,0.38,0.3,0.22,0.15,0.05,-0.05,-0.12,-0.2,-0.28,-0.38,-0.45,-0.6],
 [0.55,0.48,0.4,0.32,0.25,0.18,0.1,0.02,-0.05,-0.12,-0.2,-0.28,-0.45,-0.7],
 [0.72,0.65,0.3,0.22,0.15,0.08,0.0,-0.08,-0.15,-0.22,-0.38,-0.45,-0.55]
];
const mean_r5c4 = [-0.03,-0.03,0.04,-0.03,-0.13,0.0,0.03,0.03,0.07,0.08];

const est_r5c5 = [
 [0.44,0.38,0.3,0.22,0.15,0.08,0.0,-0.08,-0.15,-0.22,-0.3,-0.38,-0.5],
 [0.78,0.7,0.55,0.12,0.05,-0.02,-0.1,-0.18,-0.25,-0.32,-0.4,-0.48,-0.55],
 [0.8,0.72,0.62,0.55,0.48,0.4,0.32,0.25,0.18,0.1,0.02,-0.05,-0.15,-0.22,-0.65,-0.9],
 [0.78,0.7,0.62,0.55,0.45,0.35,0.25,0.15,0.05,-0.05,-0.15,-0.22,-0.3,-0.38,-0.45,-0.52,-0.65],
 [0.82,0.5,0.42,0.35,0.28,0.2,0.12,0.05,-0.02,-0.1,-0.18,-0.25,-0.32,-0.42,-0.5,-0.55],
 [0.55,0.35,0.28,0.2,0.12,0.05,-0.05,-0.12,-0.2,-0.3,-0.72],
 [0.3,0.22,0.15,0.08,0.0,-0.08,-0.15,-0.22,-0.45,-0.72],
 [0.55,0.48,0.4,0.3,0.22,0.15,0.08,0.0,-0.08,-0.15,-0.22,-0.3,-0.38,-0.45,-0.52,-0.58],
 [0.5,0.42,0.35,0.28,0.2,0.12,0.05,-0.02,-0.1,-0.18,-0.28,-0.35,-0.42,-0.5,-0.72],
 [0.48,0.4,0.32,0.25,0.18,0.1,0.02,-0.05,-0.12,-0.2,-0.28,-0.35,-0.72]
];
const mean_r5c5 = [-0.04,-0.05,0.15,0.03,0.0,0.02,-0.06,0.02,0.0,0.0];

const panelEst = [
  [est_r1c1, est_r1c2, est_r1c3, est_r1c4, est_r1c5],
  [est_r2c1, est_r2c2, est_r2c3, est_r2c4, est_r2c5],
  [est_r3c1, est_r3c2, est_r3c3, est_r3c4, est_r3c5],
  [est_r4c1, est_r4c2, est_r4c3, est_r4c4, est_r4c5],
  [est_r5c1, est_r5c2, est_r5c3, est_r5c4, est_r5c5]
];
const panelMean = [
  [mean_r1c1, mean_r1c2, mean_r1c3, mean_r1c4, mean_r1c5],
  [mean_r2c1, mean_r2c2, mean_r2c3, mean_r2c4, mean_r2c5],
  [mean_r3c1, mean_r3c2, mean_r3c3, mean_r3c4, mean_r3c5],
  [mean_r4c1, mean_r4c2, mean_r4c3, mean_r4c4, mean_r4c5],
  [mean_r5c1, mean_r5c2, mean_r5c3, mean_r5c4, mean_r5c5]
];

// ---- layout ----
const gridLeft = [195, 440, 684, 929, 1173];
const gridTop = [74, 240, 406, 572, 738];
const gridW = 182, gridH = 111;
const axisColor = '#262626';

const grids = [], xAxes = [], yAxes = [], series = [], graphics = [];
let k = 0;
for (let r = 0; r < 5; r++) {
  for (let c = 0; c < 5; c++) {
    grids.push({ left: gridLeft[c], top: gridTop[r], width: gridW, height: gridH, containLabel: false });
    xAxes.push({
      gridIndex: k, type: 'value', min: xTicks[0], max: xTicks[xTicks.length - 1], interval: 50,
      name: 'Cue mean', nameLocation: 'middle', nameGap: 21,
      nameTextStyle: { color: axisColor, fontSize: 13, fontFamily: 'DejaVu Sans' },
      axisLine: { show: true, onZero: false, lineStyle: { color: axisColor, width: 1 } },
      axisTick: { show: true, inside: true, length: 3, lineStyle: { color: axisColor } },
      axisLabel: { color: axisColor, fontSize: 12, fontFamily: 'DejaVu Sans', margin: 7 },
      splitLine: { show: false }
    });
    yAxes.push({
      gridIndex: k, type: 'value', min: yTicks[0], max: yTicks[yTicks.length - 1], interval: 0.5,
      name: 'Est-Mean', nameLocation: 'middle', nameGap: 29,
      nameTextStyle: { color: axisColor, fontSize: 13, fontFamily: 'DejaVu Sans' },
      axisLine: { show: true, onZero: false, lineStyle: { color: axisColor, width: 1 } },
      axisTick: { show: true, inside: true, length: 3, lineStyle: { color: axisColor } },
      axisLabel: { color: axisColor, fontSize: 12, fontFamily: 'DejaVu Sans', margin: 6 },
      splitLine: { show: false }
    });
    const est = panelEst[r][c];
    const pts = [];
    est.forEach((col, i) => col.forEach(v => pts.push([cueMeans[i], v])));
    series.push({
      type: 'scatter', xAxisIndex: k, yAxisIndex: k, data: pts, symbol: 'circle', symbolSize: 10,
      itemStyle: { color: '#000000', opacity: 1 }, clip: false, silent: true, animation: false, z: 2
    });
    series.push({
      type: 'scatter', xAxisIndex: k, yAxisIndex: k,
      data: panelMean[r][c].map((v, i) => [cueMeans[i], v]),
      symbol: 'rect', symbolSize: 8,
      itemStyle: { color: '#d42a2a', opacity: 1 }, clip: false, silent: true, animation: false, z: 3
    });
    const ty = gridTop[r] - 11;
    graphics.push({ type: 'text', x: gridLeft[c] + 50, y: ty,
      style: { text: 'α₀ = ' + alpha0[c], fill: '#000', font: '14px "Liberation Serif"', textAlign: 'center', textVerticalAlign: 'middle' } });
    graphics.push({ type: 'text', x: gridLeft[c] + 135, y: ty,
      style: { text: 'α₁ = ' + alpha1[r], fill: '#000', font: '14px "Liberation Serif"', textAlign: 'center', textVerticalAlign: 'middle' } });
    k++;
  }
}

const chart = echarts.init(document.getElementById('chart'), null, { renderer: 'canvas' });
chart.setOption({
  backgroundColor: '#ffffff',
  animation: false,
  grid: grids, xAxis: xAxes, yAxis: yAxes, series: series, graphic: graphics
});
</script>
</body>
</html>
